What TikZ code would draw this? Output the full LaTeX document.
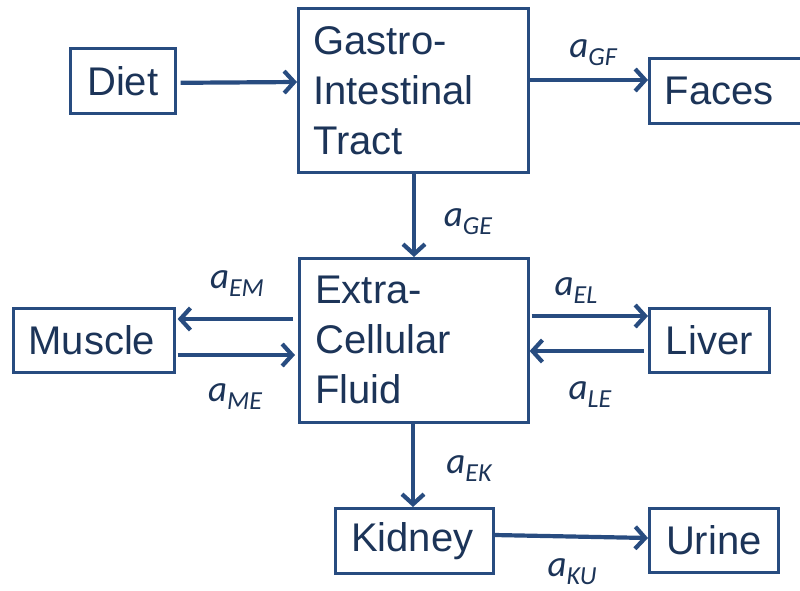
\documentclass[tikz,border=0pt]{standalone}
\usepackage{fontspec}
\setmainfont{Liberation Sans}
\newfontfamily\lblfont{Carlito}
\usetikzlibrary{arrows.meta}
\definecolor{edgeblue}{RGB}{40,76,128}
\definecolor{textnavy}{RGB}{28,52,88}
\newcommand{\ratelbl}[1]{{\lblfont\itshape\fontsize{37}{37}\selectfont a\raisebox{-8pt}{\fontsize{26}{26}\selectfont #1}}}
\tikzset{
  box/.style={draw=edgeblue, line width=2.6pt, text=textnavy, font=\fontsize{40}{50}\selectfont, inner sep=0pt},
  bigbox/.style={box, align=left, text width=200pt, inner xsep=15pt, anchor=north west},
  flow/.style={draw=edgeblue, line width=4.2pt, -{Straight Barb[length=10pt,width=22pt,line width=4.2pt]}},
  rate/.style={text=textnavy, inner sep=0pt}
}
\begin{document}
\begin{tikzpicture}[x=1pt,y=-1pt]
\useasboundingbox (0,0) rectangle (800,590);
% boxes
\node[box, minimum width=105pt, minimum height=65pt, anchor=north west] (diet) at (69,47) {Diet};
\node[bigbox, minimum height=164pt] (gi) at (297,7) {Gastro-\\Intestinal\\Tract};
\node[box, minimum width=152pt, minimum height=65pt, anchor=north west] (faces) at (648,57) {\hspace*{-12pt}Faces};
\node[bigbox, minimum height=164pt, text width=197pt, inner xsep=16pt] (ecf) at (298,257) {Extra-\\Cellular\\Fluid};
\node[box, minimum width=161pt, minimum height=64pt, anchor=north west] (muscle) at (12,307) {\hspace*{-4pt}Muscle};
\node[box, minimum width=120pt, minimum height=64pt, anchor=north west] (liver) at (648,307) {Liver};
\node[box, minimum width=158pt, minimum height=65pt, anchor=north west] (kidney) at (334,507) {\hspace*{-4pt}Kidney};
\node[box, minimum width=129pt, minimum height=64pt, anchor=north west] (urine) at (648,507) {Urine};
% connectors
\draw[flow] ([xshift=4pt,yshift=-2pt]diet.east) -- (gi.west |- 0,82);
\draw[flow] (gi.east |- 0,80) -- (faces.west |- 0,80);
\draw[flow] (gi.south -| 414,0) -- (ecf.north -| 414,0);
\draw[flow] ([xshift=-5pt]ecf.west |- 0,319) -- ([xshift=2pt]muscle.east |- 0,319);
\draw[flow] ([xshift=2pt]muscle.east |- 0,355) -- ([xshift=-3pt]ecf.west |- 0,355);
\draw[flow] ([xshift=2pt]ecf.east |- 0,316) -- (liver.west |- 0,316);
\draw[flow] ([xshift=-4pt]liver.west |- 0,351) -- (ecf.east |- 0,351);
\draw[flow] (ecf.south -| 413,0) -- (kidney.north -| 413,0);
\draw[flow] (kidney.east |- 0,535) -- (urine.west |- 0,538);
% rate labels
\node[rate] (lgf) at (593,53) {\ratelbl{GF}};
\node[rate] (lge) at (468,222) {\ratelbl{GE}};
\node[rate] (lem) at (237,284) {\ratelbl{EM}};
\node[rate] (lme) at (235,397) {\ratelbl{ME}};
\node[rate] (lel) at (576,291) {\ratelbl{EL}};
\node[rate] (lle) at (590,395) {\ratelbl{LE}};
\node[rate] (lek) at (469,469) {\ratelbl{EK}};
\node[rate] (lku) at (572,572) {\ratelbl{KU}};
\end{tikzpicture}
\end{document}
